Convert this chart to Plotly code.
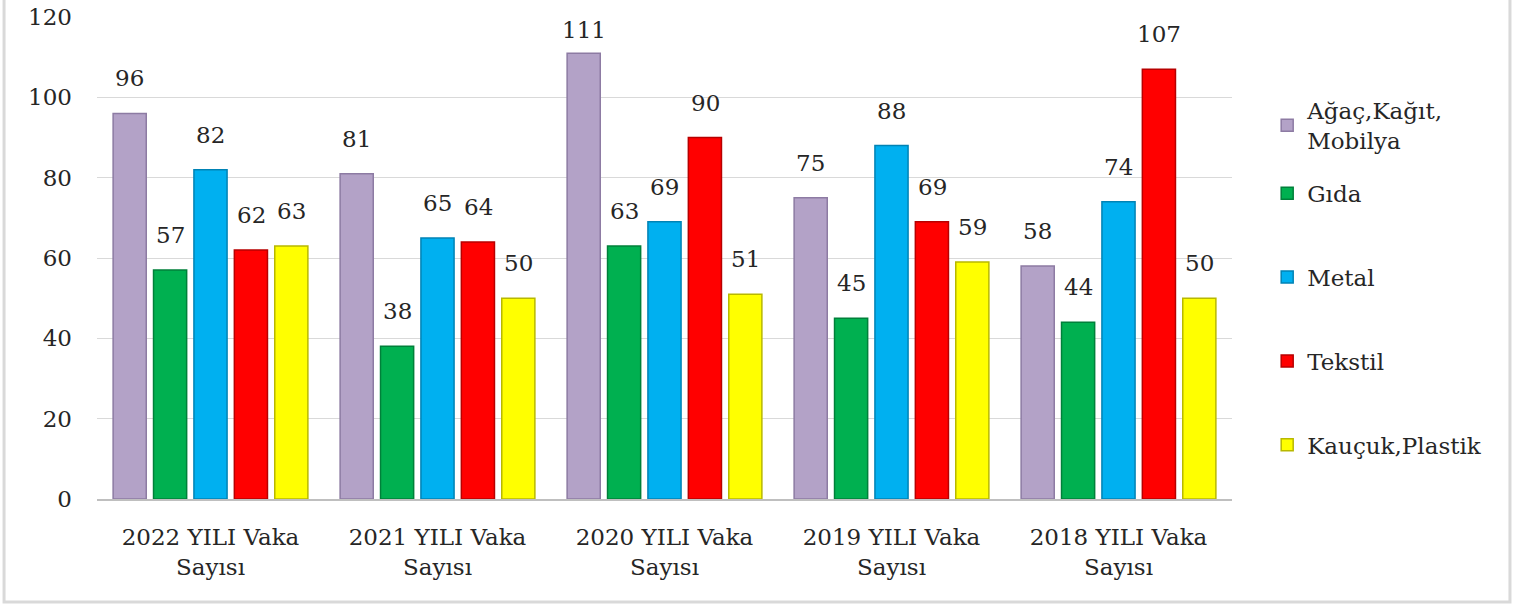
import plotly.graph_objects as go

# category labels and series values
categories = ["2022 YILI Vaka<br>Sayısı", "2021 YILI Vaka<br>Sayısı", "2020 YILI Vaka<br>Sayısı",
              "2019 YILI Vaka<br>Sayısı", "2018 YILI Vaka<br>Sayısı"]
agac = [96, 81, 111, 75, 58]
gida = [57, 38, 63, 45, 44]
metal = [82, 65, 69, 88, 74]
tekstil = [62, 64, 90, 69, 107]
kaucuk = [63, 50, 51, 59, 50]

series = [
    ("Ağaç,Kağıt,<br>Mobilya", agac, "#B3A2C7", "#8D7BA3"),
    ("Gıda", gida, "#00B050", "#00803A"),
    ("Metal", metal, "#00B0F0", "#0083B5"),
    ("Tekstil", tekstil, "#FF0000", "#B80000"),
    ("Kauçuk,Plastik", kaucuk, "#FFFF00", "#B8B800"),
]

FONT = "DejaVu Serif"
TXT = "#262626"
BAR_PITCH = 40.5  # px between bar centres inside a group
LABEL_CAP = 108   # labels of taller bars are kept inside the plot area, as Excel does

fig = go.Figure()
annotations = []
for i, (name, vals, color, edge) in enumerate(series):
    fig.add_trace(go.Bar(
        x=categories, y=vals, name=name, legendgroup=str(i),
        legend="legend" if i == 0 else "legend2",
        marker=dict(color=color, line=dict(color=edge, width=1.5)),
    ))
    # value labels sit well above the bars
    for cat, v in zip(categories, vals):
        annotations.append(dict(
            x=cat, y=min(v, LABEL_CAP), xref="x", yref="y", text=str(v), showarrow=False,
            xshift=(i - 2) * BAR_PITCH, yshift=35, yanchor="middle",
            font=dict(family=FONT, size=23, color=TXT),
        ))

legend_style = dict(xanchor="left", yanchor="top", itemwidth=30, tracegroupgap=51,
                    font=dict(family=FONT, size=23, color=TXT))

# light frame on the left, bottom and right of the chart (no top edge)
frame = dict(type="path", xref="paper", yref="paper",
             path="M -0.0819,1.05 L -0.0819,-0.2137 L 1.2449,-0.2137 L 1.2449,1.05",
             line=dict(color="#D9D9D9", width=3))

fig.update_layout(
    width=1513, height=605,
    paper_bgcolor="white", plot_bgcolor="white",
    barmode="group", bargap=0.11, bargroupgap=0.18,
    margin=dict(l=97, r=281, t=17, b=106),
    font=dict(family=FONT, size=23, color=TXT),
    legend=dict(x=1.031, y=0.851, **legend_style),
    legend2=dict(x=1.031, y=0.679, **legend_style),
    showlegend=True,
    annotations=annotations,
    shapes=[frame],
)
fig.update_xaxes(showline=True, linecolor="#BFBFBF", linewidth=1.5, ticks="",
                 ticklabelstandoff=17, automargin=False,
                 tickfont=dict(family=FONT, size=23, color=TXT))
fig.update_yaxes(range=[0, 120], dtick=20, showgrid=True, gridcolor="#D9D9D9", gridwidth=1,
                 zeroline=False, ticks="", ticklabelstandoff=24, automargin=False,
                 tickfont=dict(family=FONT, size=23, color=TXT))

# remove the default page margin so the figure sits at the window's corner
fig.write_html("out.html", config={"displayModeBar": False},
               post_script="document.body.style.margin='0px';")
